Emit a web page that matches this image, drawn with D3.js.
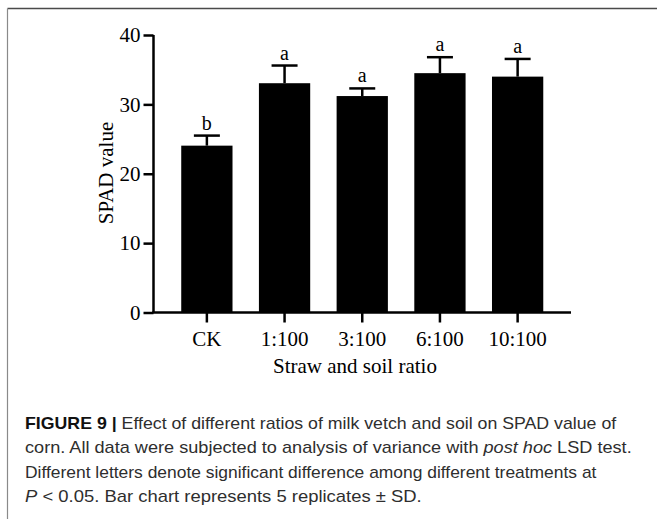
<!DOCTYPE html>
<html>
<head>
<meta charset="utf-8">
<script src="https://cdn.jsdelivr.net/npm/d3@7"></script>
<style>
  html, body { margin: 0; padding: 0; background: #fff; }
  svg { display: block; }
</style>
</head>
<body>
<script>
// SPAD value of corn under different straw : soil ratios
const categories = ["CK", "1:100", "3:100", "6:100", "10:100"];
const means      = [24.05, 33.05, 31.2, 34.5, 34.0];
const sds        = [1.45, 2.55, 1.1, 2.3, 2.55];
const letters    = ["b", "a", "a", "a", "a"];
const yTicks     = [0, 10, 20, 30, 40];

const W = 657, H = 519;
const svg = d3.select("body").append("svg").attr("width", W).attr("height", H);

// panel frame (top and left edges)
svg.append("line").attr("x1", 7.5).attr("x2", W).attr("y1", 8.5).attr("y2", 8.5)
  .attr("stroke", "#4a4a4a").attr("stroke-width", 1.6);
svg.append("line").attr("x1", 7.5).attr("x2", 7.5).attr("y1", 8.5).attr("y2", H)
  .attr("stroke", "#8a8a8a").attr("stroke-width", 1.2);

const serif = "'Liberation Serif', 'Times New Roman', serif";
const x0 = 153.5, x1 = 571, yBase = 312.5, yTop = 35;

const x = d3.scaleBand().domain(categories).range([x0, x1])
  .paddingInner(0.34).paddingOuter(0.357);
const y = d3.scaleLinear().domain([0, 40]).range([yBase, yTop]);

const g = svg.append("g");

// bars
g.selectAll("rect.bar").data(categories).join("rect")
  .attr("class", "bar")
  .attr("x", d => x(d))
  .attr("width", x.bandwidth())
  .attr("y", (d, i) => y(means[i]))
  .attr("height", (d, i) => y(0) - y(means[i]))
  .attr("fill", "#000");

// upper error whiskers
const capHalf = 13;
const eb = g.selectAll("g.err").data(categories).join("g").attr("class", "err");
eb.append("line")
  .attr("x1", d => x(d) + x.bandwidth() / 2).attr("x2", d => x(d) + x.bandwidth() / 2)
  .attr("y1", (d, i) => y(means[i])).attr("y2", (d, i) => y(means[i] + sds[i]))
  .attr("stroke", "#000").attr("stroke-width", 2.5);
eb.append("line")
  .attr("x1", d => x(d) + x.bandwidth() / 2 - capHalf).attr("x2", d => x(d) + x.bandwidth() / 2 + capHalf)
  .attr("y1", (d, i) => y(means[i] + sds[i])).attr("y2", (d, i) => y(means[i] + sds[i]))
  .attr("stroke", "#000").attr("stroke-width", 2.5);

// significance letters
g.selectAll("text.sig").data(categories).join("text")
  .attr("class", "sig")
  .attr("x", d => x(d) + x.bandwidth() / 2)
  .attr("y", (d, i) => y(means[i] + sds[i]) - 6)
  .attr("text-anchor", "middle")
  .style("font-family", serif).style("font-size", "20px")
  .text((d, i) => letters[i]);

// y axis
const yAxis = g.append("g").attr("transform", `translate(${x0},0)`)
  .call(d3.axisLeft(y).tickValues(yTicks).tickSize(10).tickPadding(3).tickFormat(d3.format("d")));
// x axis
const xAxis = g.append("g").attr("transform", `translate(0,${yBase})`)
  .call(d3.axisBottom(x).tickSize(10).tickPadding(10).tickSizeOuter(0));

[yAxis, xAxis].forEach(a => {
  a.select(".domain").attr("stroke", "#000").attr("stroke-width", 2.5);
  a.selectAll(".tick line").attr("stroke", "#000").attr("stroke-width", 2.5);
  a.selectAll(".tick text").attr("fill", "#000")
    .style("font-family", serif).style("font-size", "21px");
});
yAxis.select(".domain").attr("d", `M0,${yTop}V${yBase}`);
xAxis.select(".domain").attr("d", `M${x0 - 1.25},0H${x1}`);
xAxis.selectAll(".tick text").attr("dy", null).attr("y", 33);

// axis titles
g.append("text")
  .attr("transform", "translate(113,173) rotate(-90)")
  .attr("text-anchor", "middle")
  .style("font-family", serif).style("font-size", "21px")
  .text("SPAD value");
g.append("text")
  .attr("x", 355).attr("y", 373)
  .attr("text-anchor", "middle")
  .style("font-family", serif).style("font-size", "21px")
  .text("Straw and soil ratio");

// figure caption, set in a narrowed sans
const sans = "'Liberation Sans', Arial, sans-serif";
const captionLines = [
  { y: 428.5, w: 592, parts: [
      { t: "FIGURE 9 |", b: true },
      { t: " Effect of different ratios of milk vetch and soil on SPAD value of" } ] },
  { y: 453, w: 607, parts: [
      { t: "corn. All data were subjected to analysis of variance with " },
      { t: "post hoc", i: true },
      { t: " LSD test." } ] },
  { y: 477.5, w: 572, parts: [
      { t: "Different letters denote significant difference among different treatments at" } ] },
  { y: 502, w: 397, parts: [
      { t: "P", i: true },
      { t: " < 0.05. Bar chart represents 5 replicates \u00b1 SD." } ] }
];
captionLines.forEach(line => {
  const lg = svg.append("g");
  const txt = lg.append("text")
    .style("font-family", sans).style("font-size", "16px").attr("fill", "#2e2e2e");
  line.parts.forEach(p => {
    txt.append("tspan")
      .style("font-weight", p.b ? "bold" : null)
      .style("font-style", p.i ? "italic" : null)
      .attr("fill", p.b ? "#111" : null)
      .text(p.t);
  });
  const natural = txt.node().getComputedTextLength();
  const sx = natural > 0 ? line.w / natural : 0.85;
  lg.attr("transform", `translate(25,${line.y}) scale(${sx},1)`);
});
</script>
</body>
</html>
